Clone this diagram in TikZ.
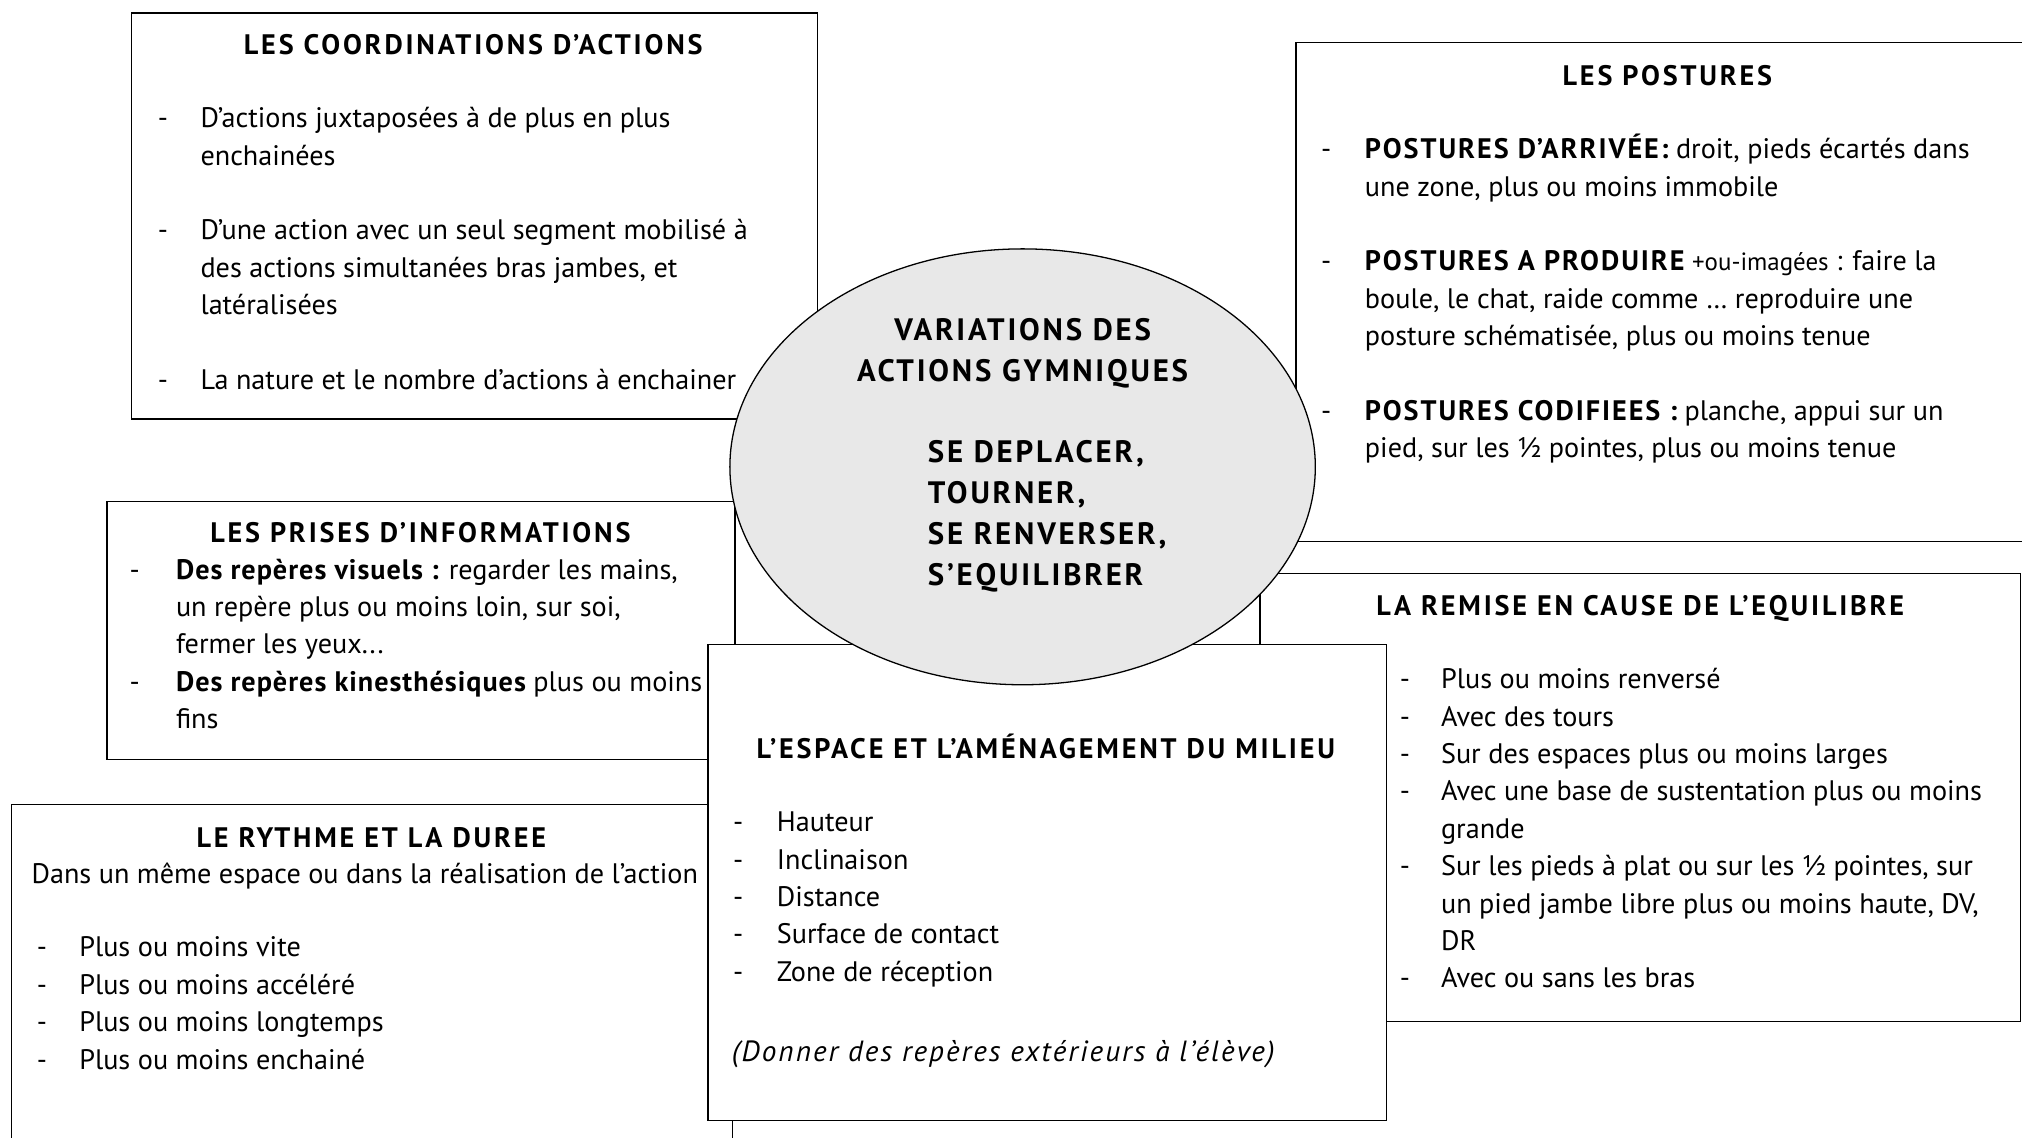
\documentclass[tikz,border=0pt]{standalone}
\usepackage{fontspec}
\setmainfont{PT Sans}
\usetikzlibrary{shapes.geometric}

\newcommand{\majgras}[1]{{\bfseries\addfontfeatures{LetterSpace=7}#1}}
\newcommand{\mingras}[1]{{\bfseries\addfontfeatures{LetterSpace=3.5}#1}}

\tikzset{every picture/.style={line width=0.75pt}}
\tikzset{
  cadre/.style={draw, fill=white},
  corps/.style={anchor=base west, inner sep=0pt, font=\fontsize{16.4}{21.75}\selectfont},
  titre/.style={anchor=base, inner sep=0pt, font=\fontsize{16.4}{21.75}\selectfont\bfseries\addfontfeatures{LetterSpace=10}},
  bulle/.style={anchor=base, inner sep=0pt, font=\fontsize{18}{23.8}\selectfont\bfseries\addfontfeatures{LetterSpace=9}},
}

\begin{document}
\begin{tikzpicture}[x=0.75pt,y=0.75pt,yscale=-1,xscale=1]
\useasboundingbox (0,0) rectangle (1568,882);

%Shape: Rectangle [coordinations]
\draw [cadre] (102,10) rectangle (634,325);
% Text Node
\draw (367,42) node [titre] (coordTitre) {LES COORDINATIONS D’ACTIONS};
% Text Node
\draw (122,99) node [corps] (coordListe) {\begin{tabular}[t]{@{}p{24.75pt}@{}l@{}}
- & D’actions juxtaposées à de plus en plus\\
  & enchainées\\
  & \\
- & D’une action avec un seul segment mobilisé à\\
  & des actions simultanées bras jambes, et\\
  & latéralisées\\
  & \\
- & La nature et le nombre d’actions à enchainer
\end{tabular}};

%Shape: Rectangle [postures]
\draw [cadre] (1005,33) rectangle (1590,420);
% Text Node
\draw (1293,66) node [titre] (postTitre) {LES POSTURES};
% Text Node
\draw (1024,123) node [corps] (postListe) {\begin{tabular}[t]{@{}p{25.5pt}@{}l@{}}
- & \majgras{POSTURES D’ARRIVÉE:} droit, pieds écartés dans\\
  & une zone, plus ou moins immobile\\
  & \\
- & \majgras{POSTURES A PRODUIRE} {\fontsize{14.5}{21.75}\selectfont +ou-imagées} : faire la\\
  & boule, le chat, raide comme … reproduire une\\
  & posture schématisée, plus ou moins tenue\\
  & \\
- & \majgras{POSTURES CODIFIEES :} planche, appui sur un\\
  & pied, sur les ½ pointes, plus ou moins tenue
\end{tabular}};

%Shape: Rectangle [remise en cause]
\draw [cadre] (977,445) rectangle (1567,792);
% Text Node
\draw (1272,477) node [titre] (remiseTitre) {LA REMISE EN CAUSE DE L’EQUILIBRE};
% Text Node
\draw (1085,534) node [corps] (remiseListe) {\begin{tabular}[t]{@{}p{24pt}@{}l@{}}
- & Plus ou moins renversé\\
- & Avec des tours\\
- & Sur des espaces plus ou moins larges\\
- & Avec une base de sustentation plus ou moins\\
  & grande\\
- & Sur les pieds à plat ou sur les ½ pointes, sur\\
  & un pied jambe libre plus ou moins haute, DV,\\
  & DR\\
- & Avec ou sans les bras
\end{tabular}};

%Shape: Rectangle [prises d'informations]
\draw [cadre] (83,389) rectangle (570,589);
% Text Node
\draw (326,421) node [titre] (prisesTitre) {LES PRISES D’INFORMATIONS};
% Text Node
\draw (100,449) node [corps] (prisesListe) {\begin{tabular}[t]{@{}p{27pt}@{}l@{}}
- & \mingras{Des repères visuels :} regarder les mains,\\
  & un repère plus ou moins loin, sur soi,\\
  & fermer les yeux...\\
- & \mingras{Des repères kinesthésiques} plus ou moins\\
  & fins
\end{tabular}};

%Shape: Rectangle [rythme]
\draw [cadre] (9,624) rectangle (568,900);
% Text Node
\draw (288,657) node [titre] (rythmeTitre) {LE RYTHME ET LA DUREE};
% Text Node
\draw (24,685) node [corps] (rythmeSous) {Dans un même espace ou dans la réalisation de l’action};
% Text Node
\draw (28,742) node [corps] (rythmeListe) {\begin{tabular}[t]{@{}p{24.75pt}@{}l@{}}
- & Plus ou moins vite\\
- & Plus ou moins accéléré\\
- & Plus ou moins longtemps\\
- & Plus ou moins enchainé
\end{tabular}};

%Shape: Rectangle [espace]
\draw [cadre] (549,500) rectangle (1075,869);
% Text Node
\draw (811,588) node [titre] (espaceTitre) {L’ESPACE ET L’AMÉNAGEMENT DU MILIEU};
% Text Node
\draw (568,645) node [corps] (espaceListe) {\begin{tabular}[t]{@{}p{25.5pt}@{}l@{}}
- & Hauteur\\
- & Inclinaison\\
- & Distance\\
- & Surface de contact\\
- & Zone de réception
\end{tabular}};
% Text Node
\draw (567,823) node [corps, font=\fontsize{17}{21.75}\selectfont\itshape\addfontfeatures{LetterSpace=7}] (espaceNote) {(Donner des repères extérieurs à l’élève)};

%Shape: Ellipse [centre]
\draw [fill=black!9] (793,362) ellipse [x radius=227, y radius=169];
% Text Node
\draw (793,264) node [bulle] (centreTitre1) {VARIATIONS DES};
% Text Node
\draw (793,296) node [bulle] (centreTitre2) {ACTIONS GYMNIQUES};
% Text Node
\draw (719,359) node [bulle, anchor=base west] (centreVerbes) {\begin{tabular}[t]{@{}l@{}}
SE DEPLACER,\\
TOURNER,\\
SE RENVERSER,\\
S’EQUILIBRER
\end{tabular}};

\end{tikzpicture}
\end{document}
